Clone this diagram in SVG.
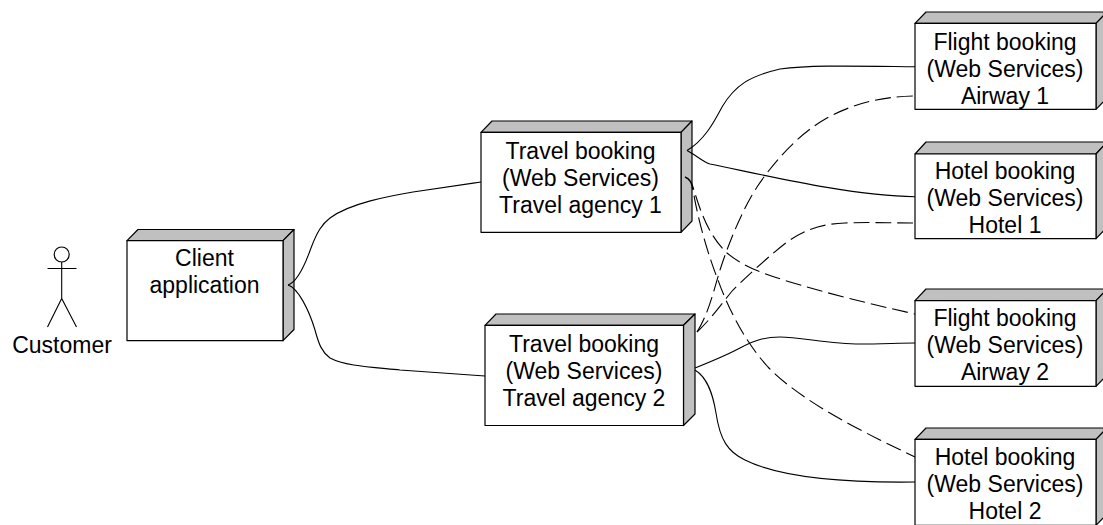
<svg xmlns="http://www.w3.org/2000/svg" width="1103" height="525" viewBox="0 0 1103 525">
<style>
.o{stroke:#000;stroke-width:1.2;stroke-linejoin:round}
.f{fill:#fff}
.t{fill:#c0c0c0}
.c{fill:none;stroke:#000;stroke-width:1.1}
.d{stroke-dasharray:16 6}
text{font-family:"Liberation Sans",Arial,sans-serif;font-size:23px;fill:#000;text-anchor:middle}
</style>
<rect width="1103" height="525" fill="#fff"/>
<g id="customer">
<circle class="o f" cx="61.700" cy="254.500" r="7.500"/>
<path class="c" d="M47.500 268.500H76.500M61.700 262V298.500M47.500 327L61.700 298.500L76.500 327"/>
<text x="62" y="352.500">Customer</text>
</g>
<g id="client">
<path class="o t" d="M127 240.700L138 229.500H294L283 240.700Z"/>
<path class="o t" d="M283 240.700L294 229.500V329.500L283 340.700Z"/>
<rect class="o f" x="127" y="240.700" width="156" height="100"/>
<text x="204.500" y="265.700">Client</text>
<text x="204.500" y="292.700">application</text>
</g>
<g id="travel1">
<path class="o t" d="M481 132.300L492 121H692L681 132.300Z"/>
<path class="o t" d="M681 132.300L692 121V221L681 232.300Z"/>
<rect class="o f" x="481" y="132.300" width="200" height="100"/>
<text x="580.500" y="158.700">Travel booking</text>
<text x="580.500" y="185.700">(Web Services)</text>
<text x="580.500" y="212.700">Travel agency 1</text>
</g>
<g id="travel2">
<path class="o t" d="M485 325.300L496 314H695L683.500 325.300Z"/>
<path class="o t" d="M683.500 325.300L695 314V414L683.500 425.500Z"/>
<rect class="o f" x="485" y="325.300" width="198.500" height="100.200"/>
<text x="584" y="351.700">Travel booking</text>
<text x="584" y="378.700">(Web Services)</text>
<text x="584" y="405.700">Travel agency 2</text>
</g>
<g id="flight1">
<path class="o t" d="M915 23.300L926 12H1107L1096 23.300Z"/>
<path class="o t" d="M1096 23.300L1107 12V98L1096 109.300Z"/>
<rect class="o f" x="915" y="23.300" width="181" height="86"/>
<text x="1005" y="49.700">Flight booking</text>
<text x="1005" y="76.700">(Web Services)</text>
<text x="1005" y="103.700">Airway 1</text>
</g>
<g id="hotel1">
<path class="o t" d="M915 154L926 142H1107L1096 154Z"/>
<path class="o t" d="M1096 154L1107 142V227L1096 238.700Z"/>
<rect class="o f" x="915" y="154" width="181" height="84.700"/>
<text x="1005" y="178.700">Hotel booking</text>
<text x="1005" y="205.700">(Web Services)</text>
<text x="1005" y="232.700">Hotel 1</text>
</g>
<g id="flight2">
<path class="o t" d="M915 300.700L926 289H1107L1096 300.700Z"/>
<path class="o t" d="M1096 300.700L1107 289V375L1096 386.300Z"/>
<rect class="o f" x="915" y="300.700" width="181" height="85.600"/>
<text x="1005" y="325.700">Flight booking</text>
<text x="1005" y="352.700">(Web Services)</text>
<text x="1005" y="379.700">Airway 2</text>
</g>
<g id="hotel2">
<path class="o t" d="M915 439.300L926 428H1107L1096 439.300Z"/>
<path class="o t" d="M1096 439.300L1107 428V514L1096 525.300Z"/>
<rect class="o f" x="915" y="439.300" width="181" height="86"/>
<text x="1005" y="464.700">Hotel booking</text>
<text x="1005" y="491.700">(Web Services)</text>
<text x="1005" y="518.700">Hotel 2</text>
</g>
<g id="connectors">
<path class="c" d="M288 285C298 282 306 262 311 248C317 232 322 224 330 218C350 203 390 196 413 192C440 188 460 185 481 182"/>
<path class="c" d="M288 285C298 288 309 310 315 330C319 345 322 352 330 358C345 366 370 367 400 370C430 372 460 374 485 376"/>
<path class="c" d="M687 150.500C705 140 715 120 722 107C735 85 750 76 780 69C810 65 850 66 915 66.700"/>
<path class="c" d="M687 150.500C696 155 703 162 710 164C760 174 850 196 915 196.700"/>
<path class="c" d="M695 368C710 362 725 356 740 348C755 340 765 337 780 337C800 337 830 344 860 344C880 344 900 343 915 343"/>
<path class="c" d="M695 370C708 378 713 395 716 413C720 440 728 452 745 460C775 475 830 483 915 482"/>
<path class="c d" d="M685 177C690 179 692 183 693 187C700 210 708 235 727 253C745 268 765 274 790 282C830 294 870 304 915 314"/>
<path class="c d" d="M685 177C690 179 692 183 693 190C698 220 708 255 718 280C728 308 745 342 768 367C795 395 840 420 880 440C892 446 903 451 915 457"/>
<path class="c d" d="M697 332C708 315 714 290 720 270C728 245 742 210 757 187C775 160 800 133 827 118C855 103 880 97 913 96"/>
<path class="c d" d="M697 332C712 318 722 303 733 290C745 278 770 255 787 242C805 230 820 224 845 223C870 222 890 223 913 223"/>
</g>
</svg>
